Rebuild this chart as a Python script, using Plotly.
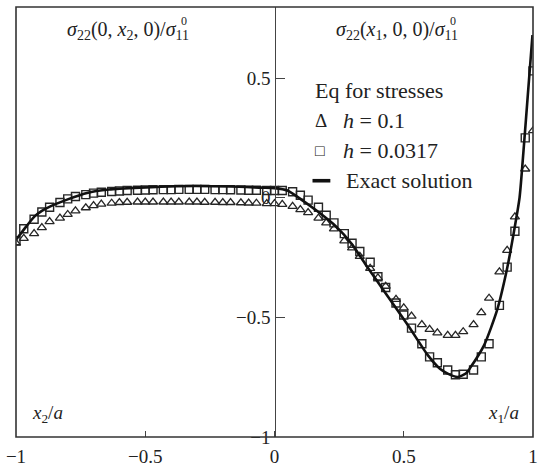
import plotly.graph_objects as go

# grid of computed points (x2/a on the left half, x1/a on the right half)
grid_x = [-1.00, -0.97, -0.93, -0.90, -0.87, -0.83, -0.80, -0.77, -0.73, -0.70,
          -0.67, -0.63, -0.60, -0.57, -0.53, -0.50, -0.47, -0.43, -0.40, -0.37,
          -0.33, -0.30, -0.27, -0.23, -0.20, -0.17, -0.13, -0.10, -0.07, -0.03,
          0.00, 0.03, 0.07, 0.10, 0.13, 0.17, 0.20, 0.23, 0.27, 0.30,
          0.33, 0.37, 0.40, 0.43, 0.47, 0.50, 0.53, 0.57, 0.60, 0.63,
          0.67, 0.70, 0.73, 0.77, 0.80, 0.83, 0.87, 0.90, 0.93, 0.97, 1.00]

# h = 0.1 (triangles)
tri_y = [-0.19, -0.17, -0.15, -0.125, -0.10, -0.085, -0.07, -0.055, -0.042, -0.033,
         -0.027, -0.023, -0.020, -0.019, -0.018, -0.018, -0.018, -0.018, -0.018, -0.018,
         -0.018, -0.018, -0.019, -0.019, -0.020, -0.020, -0.021, -0.022, -0.023, -0.025,
         -0.025, -0.028, -0.036, -0.050, -0.062, -0.085, -0.105, -0.13, -0.18, -0.21,
         -0.245, -0.295, -0.335, -0.37, -0.425, -0.46, -0.495, -0.53, -0.55, -0.565,
         -0.575, -0.575, -0.56, -0.53, -0.48, -0.42, -0.31, -0.22, -0.08, 0.12, 0.28]

# h = 0.0317 (squares)
sq_y = [-0.18, -0.13, -0.09, -0.06, -0.04, -0.02, -0.005, 0.005, 0.013, 0.019,
        0.023, 0.026, 0.028, 0.030, 0.031, 0.032, 0.033, 0.034, 0.034, 0.035,
        0.035, 0.035, 0.035, 0.034, 0.034, 0.033, 0.032, 0.031, 0.031, 0.030,
        0.030, 0.030, 0.025, 0.010, -0.010, -0.040, -0.073, -0.105, -0.15, -0.19,
        -0.225, -0.27, -0.33, -0.375, -0.44, -0.49, -0.545, -0.61, -0.665, -0.69,
        -0.72, -0.74, -0.738, -0.72, -0.665, -0.61, -0.45, -0.29, -0.14, 0.25, 0.53]

# exact solution
exact_x = [-1.00, -0.96, -0.93, -0.90, -0.865, -0.80, -0.725, -0.64, -0.52, -0.38,
           -0.17, -0.05, 0.00, 0.05, 0.108, 0.17, 0.238, 0.30, 0.353, 0.429,
           0.517, 0.593, 0.64, 0.67, 0.708, 0.74, 0.757, 0.811, 0.861, 0.899,
           0.925, 0.948, 0.965, 0.98, 0.998]
exact_y = [-0.176, -0.12, -0.08, -0.055, -0.035, -0.007, 0.02, 0.034, 0.042, 0.048,
           0.047, 0.042, 0.040, 0.030, -0.011, -0.06, -0.12, -0.195, -0.28, -0.398,
           -0.534, -0.658, -0.715, -0.735, -0.749, -0.735, -0.711, -0.616, -0.47, -0.30,
           -0.15, 0.0, 0.22, 0.43, 0.68]

x_ticks = [-1, -0.5, 0, 0.5, 1]
x_tick_text = ["\u22121", "\u22120.5", "0", "0.5", "1"]
y_ticks = [-1, -0.5, 0, 0.5]
y_tick_text = ["\u22121", "\u22120.5", "0", "0.5"]

FONT = "Liberation Serif"
INK = "#262626"

fig = go.Figure()
fig.add_trace(go.Scatter(x=grid_x, y=tri_y, mode="markers",
                         marker=dict(symbol="triangle-up-open", size=8, color=INK,
                                     line=dict(width=1.3, color=INK)),
                         showlegend=False))
fig.add_trace(go.Scatter(x=grid_x, y=sq_y, mode="markers",
                         marker=dict(symbol="square-open", size=8, color=INK,
                                     line=dict(width=1.4, color=INK)),
                         showlegend=False))
fig.add_trace(go.Scatter(x=exact_x, y=exact_y, mode="lines",
                         line=dict(color="#111111", width=2.6, shape="spline", smoothing=0.6),
                         showlegend=False))

fig.update_layout(
    width=544, height=473,
    margin=dict(l=15, r=6, t=7, b=31),
    paper_bgcolor="white", plot_bgcolor="white",
    font=dict(family=FONT, size=19, color="#222"),
    xaxis=dict(range=[-1, 1], showgrid=False, zeroline=False, showline=False,
               tickmode="array", tickvals=x_ticks, ticktext=x_tick_text,
               ticks="inside", ticklen=6, tickwidth=1.2, tickcolor="#444",
               ticklabelstandoff=6,
               tickfont=dict(family=FONT, size=19)),
    yaxis=dict(range=[-1, 0.797], showgrid=False, zeroline=False,
               anchor="free", position=0.5, side="left",
               showline=True, linecolor="#444", linewidth=1.3,
               tickmode="array", tickvals=y_ticks, ticktext=y_tick_text,
               ticks="inside", ticklen=9, tickwidth=1.2, tickcolor="#444",
               tickfont=dict(family=FONT, size=19)),
    shapes=[
        dict(type="rect", xref="paper", yref="paper", x0=0, x1=1, y0=0, y1=1,
             line=dict(color="#333", width=1.6)),
        dict(type="line", xref="x", yref="y", x0=0.147, x1=0.216, y0=0.071, y1=0.071,
             line=dict(color="#111", width=3.6)),
    ],
)

def ann(x, y, text, size=19, xanchor="left"):
    fig.add_annotation(x=x, y=y, xref="x", yref="y", text=text, showarrow=False,
                       xanchor=xanchor, yanchor="middle",
                       font=dict(family=FONT, size=size, color="#222"))

ann(-0.810, 0.700, "<i>σ</i><sub>22</sub>(0, <i>x</i><sub>2</sub>, 0)/<i>σ</i><sub>11</sub>", size=20)
ann(-0.352, 0.738, "0", size=12, xanchor="center")
ann(0.232, 0.700, "<i>σ</i><sub>22</sub>(<i>x</i><sub>1</sub>, 0, 0)/<i>σ</i><sub>11</sub>", size=20)
ann(0.690, 0.738, "0", size=12, xanchor="center")

ann(0.147, 0.446, "Eq for stresses", size=22)
ann(0.147, 0.322, "Δ", size=19)
ann(0.258, 0.322, "<i>h</i> = 0.1", size=22)
ann(0.150, 0.198, "□", size=16)
ann(0.258, 0.198, "<i>h</i> = 0.0317", size=22)
ann(0.269, 0.071, "Exact solution", size=22)

ann(-0.945, -0.905, "<i>x</i><sub>2</sub>/<i>a</i>")
ann(0.952, -0.905, "<i>x</i><sub>1</sub>/<i>a</i>", xanchor="right")

fig.write_html("out.html")
